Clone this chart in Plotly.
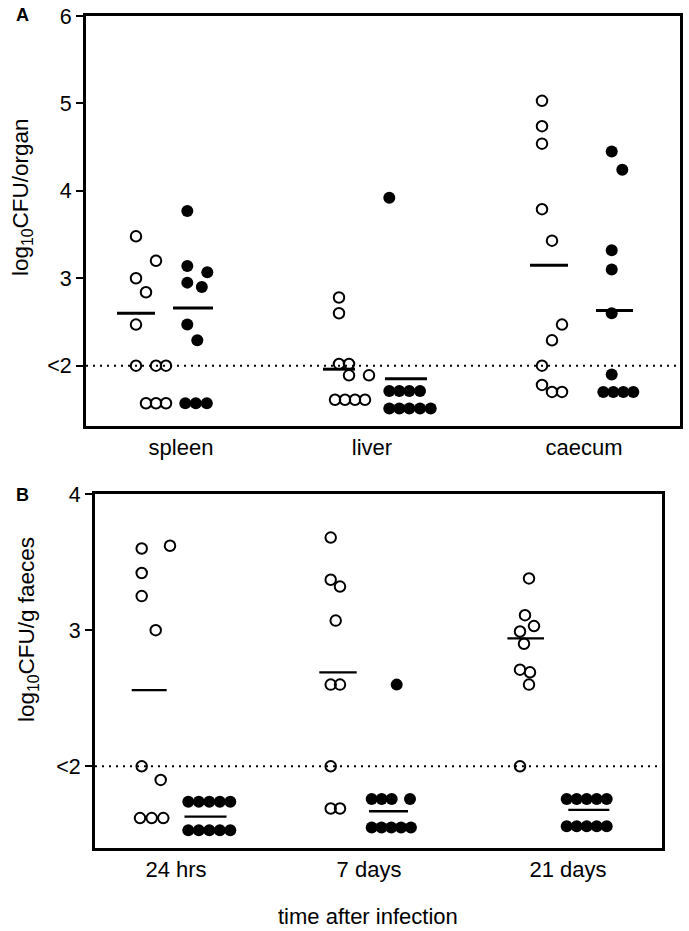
import plotly.graph_objects as go

# ---------------- Panel A data (log10 CFU/organ) ----------------
a_categories = ["spleen", "liver", "caecum"]
a_cat_pos = [9.5, 28.6, 49.8]
a_yticks = [2, 3, 4, 5, 6]
a_yticktext = ["<2", "3", "4", "5", "6"]

# open circles (group 1) and filled circles (group 2) per organ
spleen_open = [3.48, 3.20, 3.00, 2.84, 2.47, 2.00, 2.00, 2.00, 1.57, 1.57, 1.57]
spleen_open_jit = [0, 2, 0, 1, 0, 0, 2, 3, 1, 2, 3]
spleen_fill = [3.77, 3.14, 3.07, 2.95, 2.90, 2.47, 2.29, 1.57, 1.57, 1.57]
spleen_fill_jit = [0, 0, 2, 0, 1.45, 0, 1, -0.2, 0.85, 1.95]

liver_open = [2.78, 2.60, 2.02, 2.02, 1.89, 1.89, 1.61, 1.61, 1.61, 1.61]
liver_open_jit = [0, 0, 0, 1, 1, 3, -0.4, 0.6, 1.6, 2.6]
liver_fill = [3.92, 1.71, 1.71, 1.71, 1.71, 1.51, 1.51, 1.51, 1.51, 1.51]
liver_fill_jit = [0, 0, 1, 2, 3.07, 0, 1, 2, 3.07, 4.14]

caecum_open = [5.03, 4.74, 4.54, 3.79, 3.43, 2.47, 2.29, 2.00, 1.78, 1.70, 1.70]
caecum_open_jit = [0, 0, 0, 0, 1, 2, 1, 0, 0, 1, 2]
caecum_fill = [4.45, 4.24, 3.32, 3.10, 2.60, 1.90, 1.70, 1.70, 1.70, 1.70]
caecum_fill_jit = [0, 1.06, 0, 0, 0, 0, -0.84, 0.16, 1.16, 2.16]

a_open_col = [5.0, 25.3, 45.6]
a_fill_col = [10.13, 30.33, 52.57]
a_open_mean = [2.60, 1.96, 3.15]
a_fill_mean = [2.66, 1.85, 2.63]
a_open_mean_x = [5.0, 25.3, 46.3]
a_fill_mean_x = [10.7, 32.0, 52.85]
a_open_mean_hw = [1.9, 1.6, 1.9]
a_fill_mean_hw = [2.0, 2.1, 1.85]

# ---------------- Panel B data (log10 CFU/g faeces) ----------------
b_categories = ["24 hrs", "7 days", "21 days"]
b_cat_pos = [8.1, 27.4, 47.3]
b_yticks = [2, 3, 4]
b_yticktext = ["<2", "3", "4"]

h24_open = [3.60, 3.62, 3.42, 3.25, 3.00, 2.00, 1.90, 1.62, 1.62, 1.62]
h24_open_jit = [0, 2.83, 0, 0, 1.4, 0, 1.9, -0.17, 1.0, 2.16]
h24_fill = [1.74, 1.74, 1.74, 1.74, 1.74, 1.53, 1.53, 1.53, 1.53, 1.53]
h24_fill_jit = [0, 1.05, 2.1, 3.15, 4.2, 0, 1.05, 2.1, 3.15, 4.2]

d7_open = [3.68, 3.37, 3.32, 3.07, 2.60, 2.60, 2.00, 1.69, 1.69]
d7_open_jit = [0, 0, 0.93, 0.5, 0, 0.93, 0, 0, 0.93]
d7_fill = [2.60, 1.76, 1.76, 1.76, 1.76, 1.55, 1.55, 1.55, 1.55, 1.55]
d7_fill_jit = [2.5, 0, 1, 2, 3.83, 0, 0.98, 1.96, 2.94, 3.92]

d21_open = [3.38, 3.11, 3.03, 2.99, 2.90, 2.71, 2.69, 2.60, 2.00]
d21_open_jit = [0.9, 0.5, 1.4, 0, 0.4, 0, 1.0, 0.9, 0]
d21_fill = [1.76, 1.76, 1.76, 1.76, 1.76, 1.56, 1.56, 1.56, 1.56, 1.56]
d21_fill_jit = [0, 1, 2, 3, 4, 0, 1, 2, 3, 4]

b_open_col = [4.67, 23.57, 42.5]
b_fill_col = [9.33, 27.67, 47.17]
b_open_mean = [2.56, 2.69, 2.94]
b_fill_mean = [1.63, 1.67, 1.68]
b_open_mean_x = [5.42, 24.3, 43.07]
b_fill_mean_x = [11.05, 29.35, 49.38]
b_open_mean_hw = [1.75, 1.87, 1.83]
b_fill_mean_hw = [2.1, 1.95, 2.05]

detection_limit = 2.0

FONT = "Liberation Sans, Arial, Helvetica, sans-serif"
W, H = 689, 931

fig = go.Figure()


def add_groups(xref, yref, groups_open, groups_fill, open_cols, fill_cols, msize):
    xs, ys = [], []
    for col, (vals, jit) in zip(open_cols, groups_open):
        xs += [col + j for j in jit]
        ys += vals
    fig.add_trace(go.Scatter(
        x=xs, y=ys, mode="markers", xaxis=xref, yaxis=yref, showlegend=False,
        marker=dict(symbol="circle-open", size=msize, color="black",
                    line=dict(width=2, color="black"))))
    xs, ys = [], []
    for col, (vals, jit) in zip(fill_cols, groups_fill):
        xs += [col + j for j in jit]
        ys += vals
    fig.add_trace(go.Scatter(
        x=xs, y=ys, mode="markers", xaxis=xref, yaxis=yref, showlegend=False,
        marker=dict(symbol="circle", size=msize + 1.5, color="black",
                    line=dict(width=0))))


def add_means(xref, yref, centers, hws, means, width):
    xs, ys = [], []
    for c, hw, m in zip(centers, hws, means):
        xs += [c - hw, c + hw, None]
        ys += [m, m, None]
    fig.add_trace(go.Scatter(
        x=xs, y=ys, mode="lines", xaxis=xref, yaxis=yref, showlegend=False,
        line=dict(color="black", width=width)))


# Panel A
add_means("x", "y", a_open_mean_x, a_open_mean_hw, a_open_mean, 3)
add_means("x", "y", a_fill_mean_x, a_fill_mean_hw, a_fill_mean, 3)
add_groups("x", "y",
           [(spleen_open, spleen_open_jit), (liver_open, liver_open_jit), (caecum_open, caecum_open_jit)],
           [(spleen_fill, spleen_fill_jit), (liver_fill, liver_fill_jit), (caecum_fill, caecum_fill_jit)],
           a_open_col, a_fill_col, 10.5)

# Panel B
add_means("x2", "y2", b_open_mean_x, b_open_mean_hw, b_open_mean, 2.3)
add_means("x2", "y2", b_fill_mean_x, b_fill_mean_hw, b_fill_mean, 2.3)
add_groups("x2", "y2",
           [(h24_open, h24_open_jit), (d7_open, d7_open_jit), (d21_open, d21_open_jit)],
           [(h24_fill, h24_fill_jit), (d7_fill, d7_fill_jit), (d21_fill, d21_fill_jit)],
           b_open_col, b_fill_col, 10.5)

# domains from pixel boxes
axA = dict(l=86, r=680, t=16, b=426)
axB = dict(l=95, r=662, t=494, b=848)

common_x = dict(showline=True, linewidth=3, linecolor="black", mirror=True,
                ticks="", showgrid=False, zeroline=False, automargin=False,
                tickfont=dict(family=FONT, size=22, color="black"))
common_y = dict(showline=True, linewidth=3, linecolor="black", mirror=True,
                ticks="outside", ticklen=7, tickwidth=2, tickcolor="black",
                showgrid=False, zeroline=False, automargin=False,
                tickfont=dict(family=FONT, size=21.5, color="black"))

fig.update_layout(
    template="none",
    width=W, height=H, margin=dict(l=0, r=0, t=0, b=0, pad=0, autoexpand=False),
    paper_bgcolor="white", plot_bgcolor="white", showlegend=False,
    xaxis=dict(common_x, domain=[axA["l"] / W, axA["r"] / W], range=[0, (axA["r"] - axA["l"]) / 10],
               tickvals=a_cat_pos, ticktext=a_categories, anchor="y"),
    yaxis=dict(common_y, domain=[1 - axA["b"] / H, 1 - axA["t"] / H], range=[1.31, 6.0],
               tickvals=a_yticks, ticktext=a_yticktext, anchor="x"),
    xaxis2=dict(common_x, domain=[axB["l"] / W, axB["r"] / W], range=[0, (axB["r"] - axB["l"]) / 10],
                tickvals=b_cat_pos, ticktext=b_categories, anchor="y2"),
    yaxis2=dict(common_y, domain=[1 - axB["b"] / H, 1 - axB["t"] / H], range=[1.40, 4.0],
                tickvals=b_yticks, ticktext=b_yticktext, anchor="x2"),
)

# detection-limit dotted lines
for xr, yr in (("x", "y"), ("x2", "y2")):
    fig.add_shape(type="line", xref=xr + " domain", yref=yr, x0=0, x1=1,
                  y0=detection_limit, y1=detection_limit, layer="below",
                  line=dict(color="black", width=2, dash="2px,5px"))

ann_font = dict(family=FONT, size=22.5, color="black")
fig.add_annotation(text="log<sub>10</sub>CFU/organ", textangle=-90, xref="paper", yref="paper",
                   x=22 / W, y=1 - 197 / H, showarrow=False, font=ann_font,
                   xanchor="center", yanchor="middle")
fig.add_annotation(text="log<sub>10</sub>CFU/g faeces", textangle=-90, xref="paper", yref="paper",
                   x=28 / W, y=1 - 630 / H, showarrow=False, font=ann_font,
                   xanchor="center", yanchor="middle")
fig.add_annotation(text="time after infection", xref="paper", yref="paper",
                   x=367.5 / W, y=1 - 916.7 / H, showarrow=False, font=dict(family=FONT, size=22, color="black"),
                   xanchor="center", yanchor="middle")
panel_font = dict(family=FONT, size=18, color="black")
fig.add_annotation(text="<b>A</b>", xref="paper", yref="paper", x=22 / W, y=1 - 15.5 / H,
                   showarrow=False, font=panel_font, xanchor="center", yanchor="middle")
fig.add_annotation(text="<b>B</b>", xref="paper", yref="paper", x=22 / W, y=1 - 495 / H,
                   showarrow=False, font=panel_font, xanchor="center", yanchor="middle")

fig.write_html("out.html", config={"displayModeBar": False},
               post_script="document.body.style.margin='0';document.body.style.overflow='hidden';")
